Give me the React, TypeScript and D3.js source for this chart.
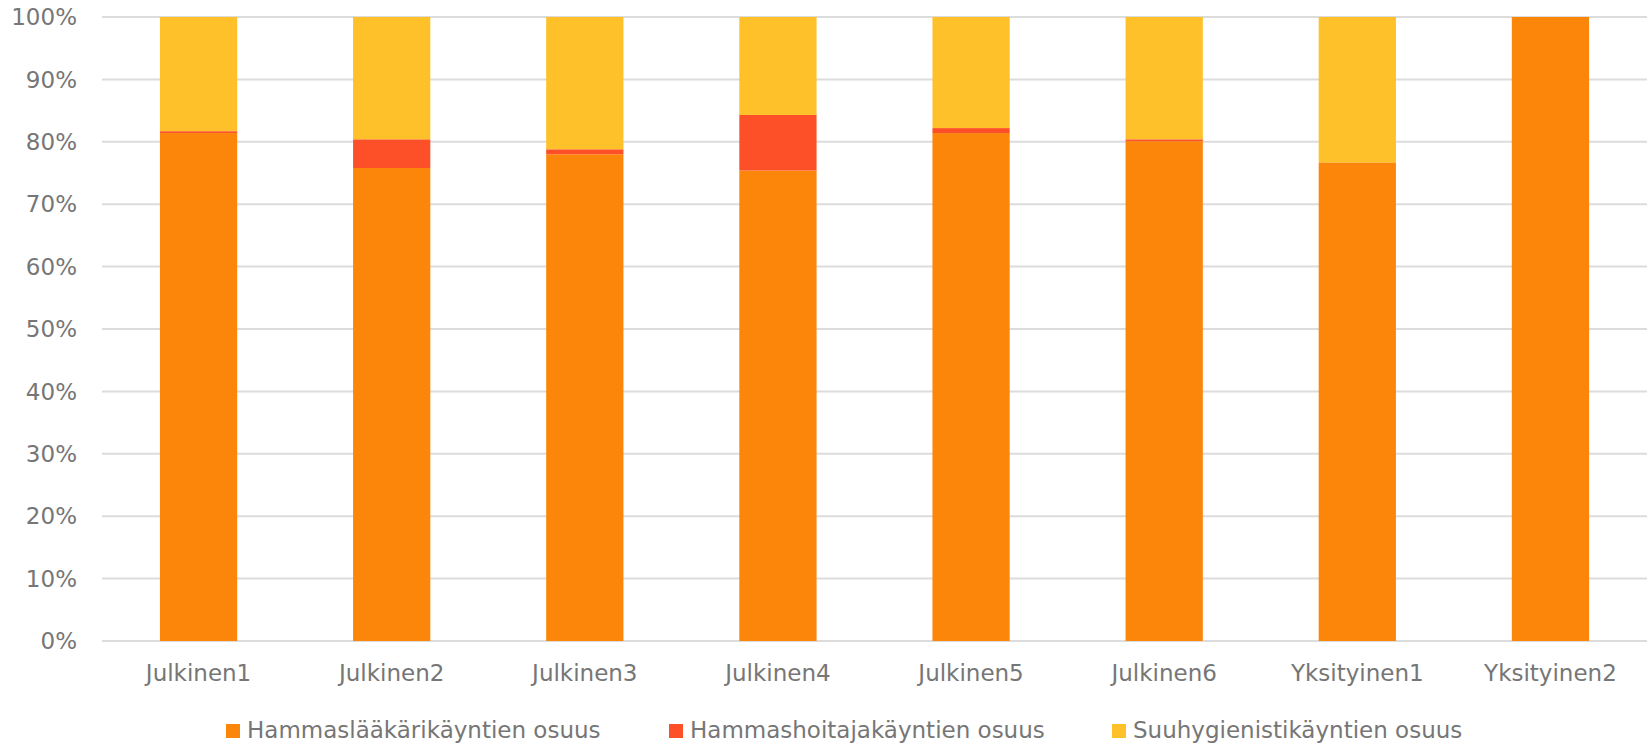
import React from "react";
import * as d3 from "d3";

// Clinics and the share of visits by professional group (percent)
const categories = [
  "Julkinen1",
  "Julkinen2",
  "Julkinen3",
  "Julkinen4",
  "Julkinen5",
  "Julkinen6",
  "Yksityinen1",
  "Yksityinen2",
];
const hammaslaakari = [81.4, 75.8, 78.0, 75.4, 81.4, 80.1, 76.7, 100];
const hammashoitaja = [0.3, 4.6, 0.8, 8.9, 0.8, 0.3, 0, 0];
const suuhygienisti = [18.3, 19.6, 21.2, 15.7, 17.8, 19.6, 23.3, 0];

const seriesNames = [
  "Hammaslääkärikäyntien osuus",
  "Hammashoitajakäyntien osuus",
  "Suuhygienistikäyntien osuus",
];
const seriesColors = ["#FC8609", "#FE5028", "#FEC12A"];
const yTicks = [0, 10, 20, 30, 40, 50, 60, 70, 80, 90, 100];

const W = 1650;
const H = 744;
const plot = { left: 102, right: 1647, top: 17, bottom: 641 };
const FONT = "'DejaVu Sans', Verdana, sans-serif";
const TEXT = "#767676";
const FS = 23;

export default function App() {
  const rows = categories.map((c, i) => ({
    cat: c,
    s0: hammaslaakari[i],
    s1: hammashoitaja[i],
    s2: suuhygienisti[i],
  }));
  const stack = d3.stack<any>().keys(["s0", "s1", "s2"]);
  const layers = stack(rows);

  const x = d3
    .scaleBand<string>()
    .domain(categories)
    .range([plot.left, plot.right])
    .paddingInner(0.6)
    .paddingOuter(0.3);
  const y = d3.scaleLinear().domain([0, 100]).range([plot.bottom, plot.top]);

  const legendX = d3
    .scalePoint<string>()
    .domain(seriesNames)
    .range([226, 1112]);

  return (
    <svg
      width={W}
      height={H}
      style={{ position: "absolute", left: 0, top: 0, background: "#fff" }}
      fontFamily={FONT}
    >
      {/* horizontal gridlines */}
      {yTicks.map((t) => (
        <line
          key={"g" + t}
          x1={plot.left}
          x2={plot.right}
          y1={y(t)}
          y2={y(t)}
          stroke="#DCDCDC"
          strokeWidth={2}
        />
      ))}
      {/* y-axis labels */}
      {yTicks.map((t) => (
        <text
          key={"yl" + t}
          x={77}
          y={y(t)}
          dy="0.36em"
          textAnchor="end"
          fontSize={FS}
          fill={TEXT}
        >
          {t}%
        </text>
      ))}
      {/* stacked bars */}
      {layers.map((layer, li) =>
        layer.map((d, i) => {
          const h = y(d[0]) - y(d[1]);
          if (h <= 0) return null;
          return (
            <rect
              key={`b${li}-${i}`}
              x={x(categories[i])}
              y={y(d[1])}
              width={x.bandwidth()}
              height={h}
              fill={seriesColors[li]}
            />
          );
        })
      )}
      {/* category labels */}
      {categories.map((c) => (
        <text
          key={"xl" + c}
          x={(x(c) as number) + x.bandwidth() / 2}
          y={681}
          textAnchor="middle"
          fontSize={FS}
          fill={TEXT}
        >
          {c}
        </text>
      ))}
      {/* legend */}
      {seriesNames.map((n, i) => {
        const lx = legendX(n) as number;
        return (
          <g key={"lg" + n}>
            <rect x={lx} y={724} width={14} height={14} fill={seriesColors[i]} />
            <text x={lx + 21} y={738} fontSize={FS} fill={TEXT}>
              {n}
            </text>
          </g>
        );
      })}
    </svg>
  );
}
